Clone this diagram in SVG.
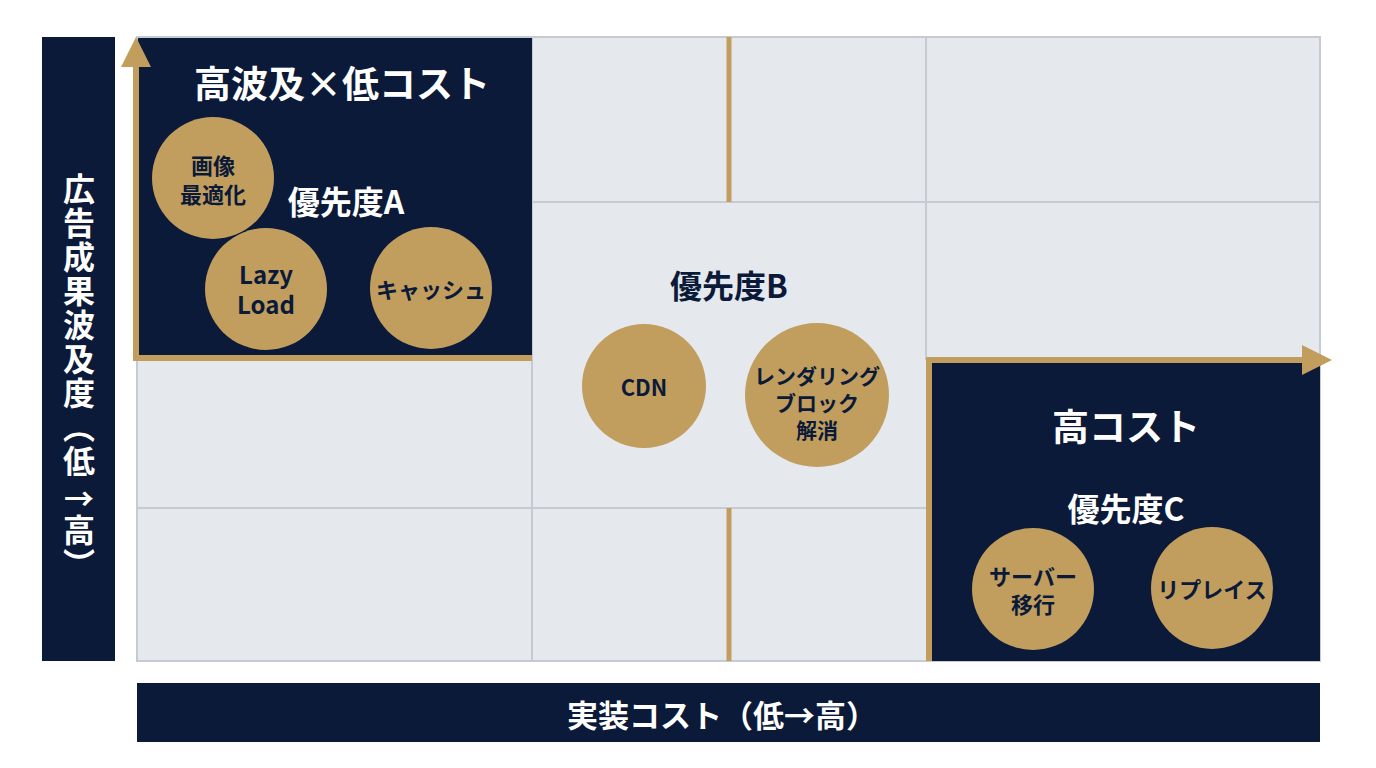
<svg xmlns="http://www.w3.org/2000/svg" width="1376" height="768" viewBox="0 0 1376 768">
<style>
.navy{fill:#0b1a38}
.gold{fill:#c19e5e}
.cell{fill:#e5e8ed}
.gl{stroke:#c6cbd3;stroke-width:2;fill:none}
.ax{stroke:#c19e5e;stroke-width:6;fill:none}
.gs{stroke:#c19e5e;stroke-width:5;fill:none}
text{font-family:"Noto Sans CJK JP","Noto Sans",sans-serif;font-weight:700;text-anchor:middle;dominant-baseline:central}
.w{fill:#ffffff}
.d{fill:#0b1a38}
.v{writing-mode:vertical-rl;text-orientation:upright;text-anchor:start;dominant-baseline:auto;letter-spacing:2px}
</style>
<rect width="1376" height="768" fill="#ffffff"/>
<g id="grid">
<rect class="cell" x="137" y="37" width="1183" height="624"/>
<line class="gl" x1="532" y1="37" x2="532" y2="661"/>
<line class="gl" x1="926" y1="37" x2="926" y2="360"/>
<line class="gl" x1="532" y1="202" x2="1320" y2="202"/>
<line class="gl" x1="137" y1="508" x2="926" y2="508"/>
<rect class="gl" x="137" y="37" width="1183" height="624"/>
<line class="gs" x1="729" y1="37" x2="729" y2="202"/>
<line class="gs" x1="729" y1="508" x2="729" y2="661"/>
</g>
<g id="y-axis-label">
<rect class="navy" x="42" y="37" width="73" height="624"/>
<text class="w v" x="79" y="173" font-size="32">広告成果波及度（低</text>
<text class="w" x="79" y="497" font-size="30">→</text>
<text class="w v" x="79" y="514" font-size="32">高）</text>
</g>
<g id="x-axis-label">
<rect class="navy" x="137" y="683" width="1183" height="59"/>
<text class="w" x="722" y="713" font-size="31">実装コスト（低→高）</text>
</g>
<g id="quadrant-a">
<rect class="navy" x="138" y="38" width="394" height="319"/>
<text class="w" x="342" y="82" font-size="37">高波及×低コスト</text>
<text class="w" x="346" y="200" font-size="32">優先度A</text>
</g>
<g id="quadrant-b">
<text class="d" x="729" y="284" font-size="32">優先度B</text>
</g>
<g id="quadrant-c">
<rect class="navy" x="929" y="360" width="391" height="301"/>
<text class="w" x="1126" y="425" font-size="37">高コスト</text>
<text class="w" x="1126" y="507" font-size="32">優先度C</text>
</g>
<g id="connectors">
<line class="ax" x1="136" y1="62" x2="136" y2="358"/>
<line class="ax" x1="133" y1="358" x2="532" y2="358"/>
<polygon class="gold" points="136,37 151,67 121,67"/>
<line class="ax" x1="929" y1="661" x2="929" y2="360"/>
<line class="ax" x1="926" y1="360" x2="1306" y2="360"/>
<polygon class="gold" points="1332,360 1302,345 1302,375"/>
</g>
<g id="node-image">
<circle class="gold" cx="213" cy="178" r="61"/>
<text class="d" font-size="22"><tspan x="213" y="164">画像</tspan><tspan x="213" y="193">最適化</tspan></text>
</g>
<g id="node-lazy">
<circle class="gold" cx="266" cy="289" r="61"/>
<text class="d" font-size="24"><tspan x="266" y="273">Lazy</tspan><tspan x="266" y="303">Load</tspan></text>
</g>
<g id="node-cache">
<circle class="gold" cx="431" cy="288" r="61"/>
<text class="d" x="431" y="288" font-size="22">キャッシュ</text>
</g>
<g id="node-cdn">
<circle class="gold" cx="644" cy="386" r="62"/>
<text class="d" x="644" y="386" font-size="22">CDN</text>
</g>
<g id="node-render">
<circle class="gold" cx="817" cy="395" r="72"/>
<text class="d" font-size="21"><tspan x="817" y="375">レンダリング</tspan><tspan x="817" y="402">ブロック</tspan><tspan x="817" y="429">解消</tspan></text>
</g>
<g id="node-server">
<circle class="gold" cx="1033" cy="589" r="61"/>
<text class="d" font-size="22"><tspan x="1033" y="575">サーバー</tspan><tspan x="1033" y="603">移行</tspan></text>
</g>
<g id="node-replace">
<circle class="gold" cx="1212" cy="588" r="61"/>
<text class="d" x="1212" y="588" font-size="22">リプレイス</text>
</g>
</svg>
